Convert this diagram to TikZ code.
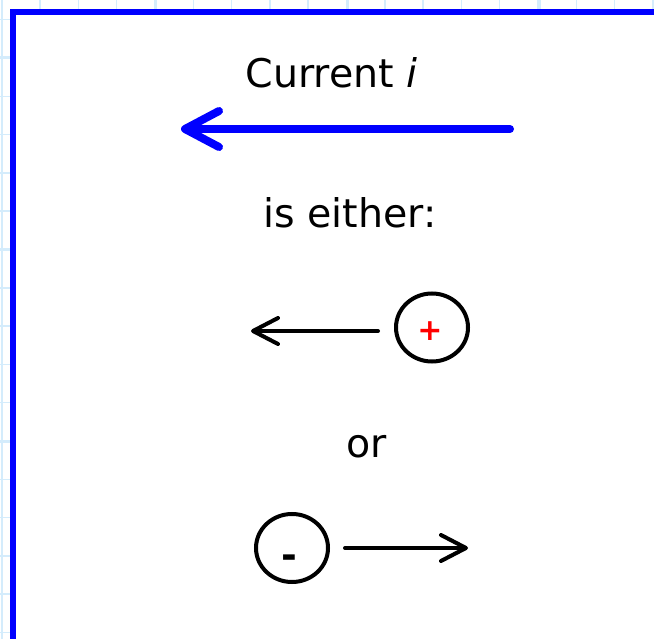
\documentclass[tikz,border=0pt]{standalone}
\usepackage{fontspec}
\setmainfont{DejaVu Sans}
\usetikzlibrary{positioning, arrows.meta, shapes.geometric}

\definecolor{gridblue}{RGB}{212,236,252}
\definecolor{frameblue}{RGB}{0,0,255}

\begin{document}
\begin{tikzpicture}[
    x=1pt, y=-1pt,          % 画像のピクセル座標をそのまま使う
    line cap=round,
    font=\fontsize{39.5}{42}\selectfont,
    gridline/.style={gridblue, line width=1.5pt, line cap=butt},
    gridmajor/.style={gridblue, line width=3pt, line cap=butt},
    frame/.style={frameblue, line width=6pt, line cap=butt, line join=miter},
    current/.style={frameblue, line width=8pt, -{Straight Barb[length=34pt, width=36pt, round]}},
    flow/.style={black, line width=4pt, -{Straight Barb[length=25pt, width=26pt, round]}},
    charge/.style={draw, ellipse, line width=4pt, minimum width=72pt, minimum height=68pt, inner sep=0pt},
    sign/.style={inner sep=0pt, font=\fontsize{30}{30}\selectfont\bfseries}
]

    % --- 1. 背景の方眼 ---
    \useasboundingbox (0,0) rectangle (654,639);
    \fill[white] (0,0) rectangle (654,639);
    \foreach \k in {0,...,17} {
        \draw[gridline] (1.8+38.3*\k, 0) -- (1.8+38.3*\k, 639);
        \draw[gridline] (0, 19.7+38.3*\k) -- (654, 19.7+38.3*\k);
    }
    \foreach \k in {0,1,2} {
        \draw[gridmajor] (155+192*\k, 0) -- (155+192*\k, 639);
        \draw[gridmajor] (0, 58+191.5*\k) -- (654, 58+191.5*\k);
    }
    \fill[white] (13,12) rectangle (654,639);

    % --- 2. 青い枠（左と上） ---
    \draw[frame] (13,645) -- (13,12) -- (660,12);

    % --- 3. 電流の矢印 ---
    \node[anchor=base] (title) at (331.5,88) {Current \textit{i}};
    \coordinate (curStart) at (510,129);
    \coordinate (curEnd) at (181,129);
    \draw[current] (curStart) -- (curEnd);

    \node[anchor=base] (either) at (350,228) {is either:};

    % --- 4. 正電荷が左へ ---
    \node[charge] (pos) at (432,327.5) {};
    \node[sign, text=red] (plus) at (430,331) {+};
    \coordinate (tipL) at (251,331);
    \draw[flow, shorten <=16pt] (pos.west |- tipL) -- (tipL);

    \node[anchor=base] (or) at (366.5,457) {or};

    % --- 5. 負電荷が右へ ---
    \node[charge] (neg) at (292,548) {};
    \node[sign, font=\fontsize{38}{38}\selectfont\bfseries] (minus) at (289,562) {-};
    \coordinate (tipR) at (468,548);
    \draw[flow, shorten <=15pt] (neg) -- (tipR);

\end{tikzpicture}
\end{document}
